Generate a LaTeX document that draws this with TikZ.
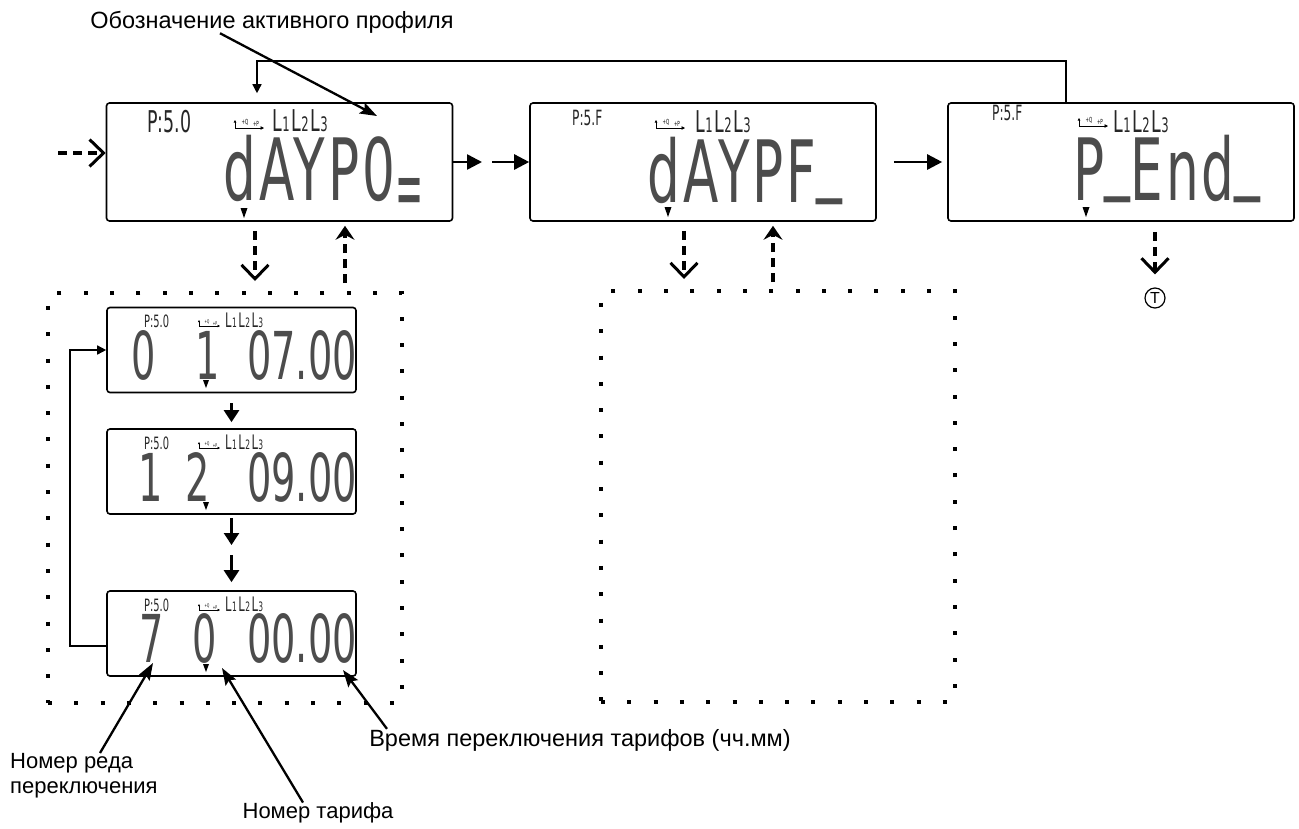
\documentclass[tikz,border=0pt]{standalone}
\usepackage{graphicx}
\usepackage{fontspec}
\setmainfont{Liberation Sans}
\newfontfamily\lcdf{DejaVu Sans}
\newfontfamily\lcdb[LetterSpace=6]{DejaVu Sans}
\usetikzlibrary{arrows.meta,calc}
\newcommand\sx[1]{\scalebox{0.58}[1]{#1}}
\newcommand\bx[1]{\scalebox{0.6}[1]{#1}}
\newcommand\LLL[2]{\sx{\lcdf\fontsize{#1}{#1}\selectfont L\kern0.8pt\fontsize{#2}{#2}\selectfont 1\kern2.5pt\fontsize{#1}{#1}\selectfont L\kern0.8pt\fontsize{#2}{#2}\selectfont 2\kern2.5pt\fontsize{#1}{#1}\selectfont L\kern0.8pt\fontsize{#2}{#2}\selectfont 3}}
\newcommand\lcdus{\raisebox{0.2em}{\textunderscore}}
\tikzset{
  disp/.style={draw, line width=1.6pt, rounded corners=3pt, inner sep=0pt},
  bigd/.style={disp, minimum width=346pt, minimum height=118pt},
  smalld/.style={disp, minimum width=249pt, minimum height=85pt},
  dotbox/.style={draw, line width=4pt, dash pattern=on 4pt off 22.3pt, inner sep=0pt, minimum width=354pt, minimum height=410pt},
  lcdbig/.style={inner sep=0pt, anchor=base, text=black!70, font=\lcdb\fontsize{86}{86}\selectfont},
  lcdsm/.style={inner sep=0pt, anchor=base, text=black!70, font=\lcdf\fontsize{66}{66}\selectfont},
  hdr/.style={inner sep=0pt, anchor=base west, text=black!85},
  lbl/.style={inner sep=0pt, font=\fontsize{22}{25}\selectfont},
  lblb/.style={inner sep=0pt, font=\fontsize{23.5}{26}\selectfont},
  dsh/.style={line width=4pt, dash pattern=on 9pt off 6pt},
  vhead/.style={-{Straight Barb[length=14pt,width=27pt,line width=3pt]}},
  uphead/.style={-{Stealth[length=14pt,width=19pt,inset=5pt]}},
  harr/.style={line width=2.5pt, -{Triangle[length=15pt,width=15pt]}},
  sarr/.style={line width=2.5pt, -{Triangle[length=12pt,width=15pt]}},
  fb/.style={line width=1.5pt, -{Triangle[length=9pt,width=9pt]}},
  larr/.style={line width=2.3pt, -{Stealth[length=17pt,width=12pt,inset=3pt]}},
  pq/.pic={
    \draw[line width=0.7pt,-{Triangle[length=2.5pt,width=2.5pt]}] (0,0) -- (0,-8);
    \draw[line width=0.7pt,-{Triangle[length=3.5pt,width=3.5pt]}] (0,0) -- (29,0);
    \node[inner sep=0pt,font=\lcdf\fontsize{7}{7}\selectfont,anchor=base] (-q) at (10,-4) {\sx{+Q}};
    \node[inner sep=0pt,font=\lcdf\fontsize{7}{7}\selectfont,anchor=base] (-p) at (21,-1.5) {\sx{+P}};
  },
  pqs/.pic={
    \draw[line width=0.6pt,-{Triangle[length=2pt,width=2pt]}] (0,0) -- (0,-6);
    \draw[line width=0.6pt,-{Triangle[length=2.5pt,width=2.5pt]}] (0,0) -- (21,0);
    \node[inner sep=0pt,font=\lcdf\fontsize{5}{5}\selectfont,anchor=base] (-q) at (8,-3) {\sx{+Q}};
    \node[inner sep=0pt,font=\lcdf\fontsize{5}{5}\selectfont,anchor=base] (-p) at (16,-1) {\sx{+P}};
  }
}
\newcommand\tri[2]{\fill (#1-3.5,#2) -- (#1+3.5,#2) -- (#1,#2+10) -- cycle;}
\newcommand\trs[2]{\fill (#1-3,#2) -- (#1+3,#2) -- (#1,#2+8) -- cycle;}
\begin{document}
\begin{tikzpicture}[x=1pt,y=-1pt]
\useasboundingbox (0,0) rectangle (1299,828);

% ---------- big displays ----------
\node[bigd] (D1) at (279.5,162) {};
\node[bigd] (D2) at (703,162) {};
\node[bigd] (D3) at (1121,162) {};

\node[lcdbig] (D1t) at (323.5,200) {\bx{dAYP0\raisebox{-0.2em}{\scalebox{0.65}[1]{=}}}};
\node[lcdbig] (D2t) at (745,202) {\bx{dAYPF\lcdus}};
\node[lcdbig] (D3t) at (1167,200) {\bx{P\lcdus End\lcdus}};

\node[hdr, font=\lcdf\fontsize{30}{30}\selectfont] (D1p) at (147,132) {\sx{P:5.0}};
\node[hdr, font=\lcdf\fontsize{21}{21}\selectfont] (D2p) at (572,125) {\sx{P:5.F}};
\node[hdr, font=\lcdf\fontsize{21}{21}\selectfont] (D3p) at (992,120) {\sx{P:5.F}};

\pic (D1q) at (235,128) {pq};
\pic (D2q) at (656,128) {pq};
\pic (D3q) at (1079,126) {pq};

\node[hdr] (D1l) at (272,131) {\LLL{30}{20}};
\node[hdr] (D2l) at (695,132) {\LLL{30}{20}};
\node[hdr] (D3l) at (1113,132) {\LLL{30}{20}};

\tri{244}{208}
\tri{668}{207}
\tri{1086}{207}

% ---------- dotted boxes ----------
\node[dotbox] (B1) at (225,498) {};
\node[dotbox, minimum height=411pt] (B2) at (778,496.5) {};

% ---------- small displays ----------
\node[smalld] (S1) at (231.5,350) {};
\node[smalld] (S2) at (231.5,471.5) {};
\node[smalld] (S3) at (231.5,633.5) {};

\node[lcdsm] (S1a) at (144,379) {\sx{0}};
\node[lcdsm] (S1b) at (208,379) {\sx{1}};
\node[lcdsm] (S1c) at (302,379) {\sx{07.00}};
\node[lcdsm] (S2a) at (151,501) {\sx{1}};
\node[lcdsm] (S2b) at (198,501) {\sx{2}};
\node[lcdsm] (S2c) at (302,501) {\sx{09.00}};
\node[lcdsm] (S3a) at (152,662) {\sx{7}};
\node[lcdsm] (S3b) at (205,662) {\sx{0}};
\node[lcdsm] (S3c) at (302,662) {\sx{00.00}};

\node[hdr, font=\lcdf\fontsize{17}{17}\selectfont] (S1p) at (144,327) {\sx{P:5.0}};
\node[hdr, font=\lcdf\fontsize{17}{17}\selectfont] (S2p) at (144,449) {\sx{P:5.0}};
\node[hdr, font=\lcdf\fontsize{17}{17}\selectfont] (S3p) at (144,611) {\sx{P:5.0}};
\pic (S1q) at (199,326) {pqs};
\pic (S2q) at (199,448) {pqs};
\pic (S3q) at (199,610) {pqs};
\node[hdr] (S1l) at (225,327) {\LLL{20}{13}};
\node[hdr] (S2l) at (225,449) {\LLL{20}{13}};
\node[hdr] (S3l) at (225,611) {\LLL{20}{13}};

\trs{206}{380}
\trs{206}{502}
\trs{206}{664}

% ---------- terminal ----------
\node[circle, draw, line width=1.2pt, minimum size=20pt, inner sep=0pt, font=\fontsize{16}{16}\selectfont] (T) at (1155,298) {T};

% ---------- connectors ----------
\coordinate (in0) at (58,153);
\draw[dsh, vhead] (in0) -- (in0 -| D1.west);

\coordinate (m1) at (482,162);
\coordinate (m2) at (492,162);
\draw[harr] (D1.east) -- (m1);
\draw[harr] (m2) -- (D2.west);
\draw[harr, shorten <=17pt, shorten >=5pt] (D2.east) -- (D3.west);

\coordinate (fbR) at (1066,61);
\coordinate (fbL) at (257,61);
\draw[fb, shorten >=9pt] (fbR |- D3.north) -- (fbR) -- (fbL) -- (fbL |- D1.north);

\coordinate (x1) at (255,0);
\coordinate (x2) at (345,0);
\coordinate (x3) at (684,0);
\coordinate (x4) at (773,0);
\draw[dsh, vhead, shorten <=9pt, shorten >=10pt] (x1 |- D1.south) -- (x1 |- B1.north);
\draw[dsh, uphead, shorten <=8pt, shorten >=4pt] (x2 |- B1.north) -- (x2 |- D1.south);
\draw[dsh, vhead, shorten <=9pt, shorten >=10pt] (x3 |- D2.south) -- (x3 |- B2.north);
\draw[dsh, uphead, shorten <=7pt, shorten >=4pt] (x4 |- B2.north) -- (x4 |- D2.south);
\draw[dsh, vhead, shorten <=10pt, shorten >=13pt] (T |- D3.south) -- (T.north);

\coordinate (g1) at (231.5,545);
\coordinate (g2) at (231.5,555);
\draw[sarr, shorten <=10pt, shorten >=6pt] (S1.south) -- (S2.north);
\draw[sarr, shorten <=3pt] (S2.south) -- (g1);
\draw[sarr, shorten >=8pt] (g2) -- (S3.north);

\coordinate (fx) at (70,646);
\draw[fb] (S3.west |- fx) -- (fx) |- (S1.west);

% ---------- labels ----------
\node[lblb] (Lp) at (272,22) {Обозначение активного профиля};
\coordinate (ap0) at (220,0);
\coordinate (ap1) at (377,116);
\draw[larr] (ap0 |- Lp.south) -- (ap1);

\node[lbl, align=left, anchor=north west] (Lr) at (10,753) {Номер реда\\переключения};
\coordinate (r0) at (100,0);
\coordinate (r1) at (153,663);
\draw[larr] (r0 |- Lr.north) -- (r1);

\node[lbl] (Lt) at (318,813) {Номер тарифа};
\coordinate (t0) at (303,0);
\coordinate (t1) at (222,668);
\draw[larr] (t0 |- Lt.north) -- (t1);

\node[lblb] (Lv) at (580,740) {Время переключения тарифов (чч.мм)};
\coordinate (v0) at (387,0);
\coordinate (v1) at (343,670);
\draw[larr] (v0 |- Lv.north) -- (v1);
\end{tikzpicture}
\end{document}
